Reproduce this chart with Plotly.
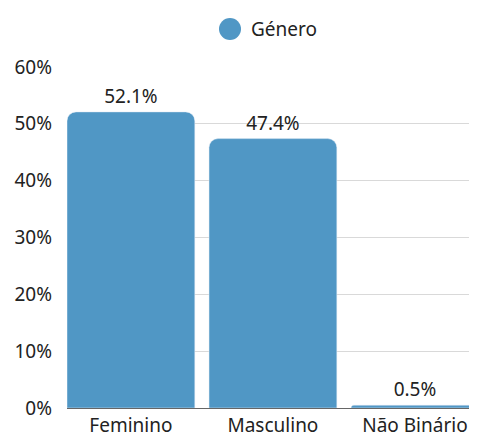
import plotly.graph_objects as go

categories = ["Feminino", "Masculino", "Não Binário"]
values = [52.1, 47.4, 0.5]
labels = ["52.1%", "47.4%", "0.5%"]
y_ticks = [0, 10, 20, 30, 40, 50, 60]
y_tick_labels = ["0%", "10%", "20%", "30%", "40%", "50%", "60%"]
legend_name = "Género"

BLUE = "#5097c5"
FONT = "Noto Sans"
# the page body has an 8px margin, so the figure is drawn at (8, 8)
OFF = 8

fig = go.Figure()
fig.add_trace(go.Bar(
    x=categories, y=values, text=labels, textposition="outside",
    textfont=dict(size=19, color="#222"), marker=dict(color=BLUE, cornerradius=9),
    cliponaxis=False, showlegend=False, width=0.9,
))

fig.update_layout(
    width=477 - OFF, height=437 - OFF,
    margin=dict(l=67 - OFF, r=0, t=67 - OFF, b=29, autoexpand=False),
    plot_bgcolor="white", paper_bgcolor="white",
    font=dict(family=FONT, size=19, color="#222"),
    showlegend=False,
    xaxis=dict(range=[-0.45, 2.437], showgrid=False, ticks="", tickfont=dict(size=19),
               ticklabelstandoff=4),
    yaxis=dict(range=[0, 60], tickvals=y_ticks, ticktext=y_tick_labels,
               gridcolor="#d9d9d9", gridwidth=1, zeroline=True, zerolinecolor="#666",
               zerolinewidth=1, ticks="", ticklabelstandoff=14, tickfont=dict(size=19)),
)

# legend (circle + text)
fig.add_shape(type="circle", xref="paper", yref="paper",
              x0=(219 - 67) / 410, x1=(241 - 67) / 410,
              y0=(408 - 40) / 341, y1=(408 - 18) / 341,
              fillcolor=BLUE, line=dict(width=0))
fig.add_annotation(text=legend_name, xref="paper", yref="paper",
                   x=(249 - 67) / 410, y=(408 - 29) / 341, xanchor="left", yanchor="middle",
                   showarrow=False, font=dict(size=19, color="#222"))

fig.write_html("out.html")
